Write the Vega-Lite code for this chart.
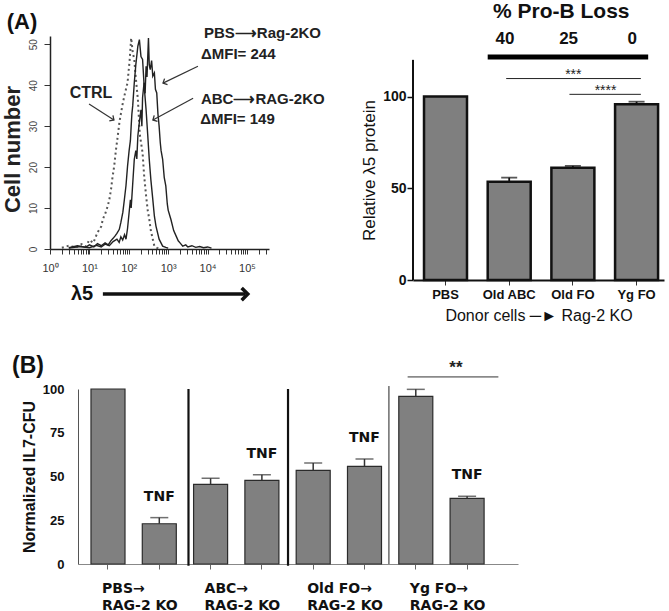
{
  "$schema": "https://vega.github.io/schema/vega-lite/v6.json",
  "padding": {"left": 1, "top": 1, "right": 2, "bottom": 0},
  "config": {"view": {"stroke": null}, "font": "Liberation Sans", "axis": {"grid": false}},
  "columns": 2,
  "bounds": "flush",
  "spacing": {"column": 144, "row": 109},
  "datasets": {
    "flow": [
      {"sample": "CTRL", "intensity": 2, "count": 0.3}, {"sample": "CTRL", "intensity": 3, "count": 0.8}, {"sample": "CTRL", "intensity": 4.5, "count": 0.4}, {"sample": "CTRL", "intensity": 6.3, "count": 1.2}, {"sample": "CTRL", "intensity": 8, "count": 0.6}, {"sample": "CTRL", "intensity": 10, "count": 2.2}, {"sample": "CTRL", "intensity": 12.6, "count": 1.5}, {"sample": "CTRL", "intensity": 16, "count": 4}, {"sample": "CTRL", "intensity": 20, "count": 5.5}, {"sample": "CTRL", "intensity": 22, "count": 7.3}, {"sample": "CTRL", "intensity": 25, "count": 8.5}, {"sample": "CTRL", "intensity": 29, "count": 10.4}, {"sample": "CTRL", "intensity": 32, "count": 12}, {"sample": "CTRL", "intensity": 35.5, "count": 14.6}, {"sample": "CTRL", "intensity": 38, "count": 17}, {"sample": "CTRL", "intensity": 42.7, "count": 20.3}, {"sample": "CTRL", "intensity": 47, "count": 24}, {"sample": "CTRL", "intensity": 52.5, "count": 27.6}, {"sample": "CTRL", "intensity": 58, "count": 31}, {"sample": "CTRL", "intensity": 63, "count": 33}, {"sample": "CTRL", "intensity": 70.8, "count": 35.7}, {"sample": "CTRL", "intensity": 80, "count": 38}, {"sample": "CTRL", "intensity": 93, "count": 40.6}, {"sample": "CTRL", "intensity": 105, "count": 46}, {"sample": "CTRL", "intensity": 115, "count": 51.5}, {"sample": "CTRL", "intensity": 126, "count": 48}, {"sample": "CTRL", "intensity": 138, "count": 46.3}, {"sample": "CTRL", "intensity": 150, "count": 42}, {"sample": "CTRL", "intensity": 170, "count": 36.6}, {"sample": "CTRL", "intensity": 190, "count": 28}, {"sample": "CTRL", "intensity": 224, "count": 23.5}, {"sample": "CTRL", "intensity": 245, "count": 18}, {"sample": "CTRL", "intensity": 275, "count": 13}, {"sample": "CTRL", "intensity": 302, "count": 9.5}, {"sample": "CTRL", "intensity": 331, "count": 7.3}, {"sample": "CTRL", "intensity": 363, "count": 4.5}, {"sample": "CTRL", "intensity": 407, "count": 2.4}, {"sample": "CTRL", "intensity": 447, "count": 0.7}, {"sample": "CTRL", "intensity": 520, "count": 0.3}, {"sample": "CTRL", "intensity": 600, "count": 0},
      {"sample": "ABC", "intensity": 3, "count": 0.3}, {"sample": "ABC", "intensity": 5, "count": 0.8}, {"sample": "ABC", "intensity": 8, "count": 0.4}, {"sample": "ABC", "intensity": 10, "count": 1}, {"sample": "ABC", "intensity": 13, "count": 0.5}, {"sample": "ABC", "intensity": 16, "count": 1.3}, {"sample": "ABC", "intensity": 20, "count": 0.8}, {"sample": "ABC", "intensity": 25, "count": 1.5}, {"sample": "ABC", "intensity": 30, "count": 1}, {"sample": "ABC", "intensity": 35, "count": 2}, {"sample": "ABC", "intensity": 40, "count": 2.6}, {"sample": "ABC", "intensity": 45, "count": 3.2}, {"sample": "ABC", "intensity": 50, "count": 3.8}, {"sample": "ABC", "intensity": 57.5, "count": 4.8}, {"sample": "ABC", "intensity": 63, "count": 6.5}, {"sample": "ABC", "intensity": 70.8, "count": 9}, {"sample": "ABC", "intensity": 77.6, "count": 12.2}, {"sample": "ABC", "intensity": 85, "count": 15.5}, {"sample": "ABC", "intensity": 93, "count": 20.2}, {"sample": "ABC", "intensity": 102, "count": 24}, {"sample": "ABC", "intensity": 110, "count": 26.5}, {"sample": "ABC", "intensity": 115, "count": 30}, {"sample": "ABC", "intensity": 120, "count": 33}, {"sample": "ABC", "intensity": 126, "count": 35}, {"sample": "ABC", "intensity": 138, "count": 40.6}, {"sample": "ABC", "intensity": 151, "count": 45}, {"sample": "ABC", "intensity": 170, "count": 49.5}, {"sample": "ABC", "intensity": 186, "count": 51.1}, {"sample": "ABC", "intensity": 204, "count": 47}, {"sample": "ABC", "intensity": 224, "count": 46.3}, {"sample": "ABC", "intensity": 245, "count": 40}, {"sample": "ABC", "intensity": 275, "count": 34}, {"sample": "ABC", "intensity": 302, "count": 28}, {"sample": "ABC", "intensity": 331, "count": 21.9}, {"sample": "ABC", "intensity": 363, "count": 17}, {"sample": "ABC", "intensity": 407, "count": 12.1}, {"sample": "ABC", "intensity": 447, "count": 8}, {"sample": "ABC", "intensity": 490, "count": 5.6}, {"sample": "ABC", "intensity": 589, "count": 2.4}, {"sample": "ABC", "intensity": 724, "count": 0.7}, {"sample": "ABC", "intensity": 870, "count": 0.4}, {"sample": "ABC", "intensity": 1000, "count": 0.2},
      {"sample": "PBS", "intensity": 3, "count": 0.2}, {"sample": "PBS", "intensity": 6, "count": 0.6}, {"sample": "PBS", "intensity": 10, "count": 0.3}, {"sample": "PBS", "intensity": 15, "count": 0.9}, {"sample": "PBS", "intensity": 20, "count": 0.5}, {"sample": "PBS", "intensity": 25, "count": 1.2}, {"sample": "PBS", "intensity": 32, "count": 0.8}, {"sample": "PBS", "intensity": 40, "count": 1.8}, {"sample": "PBS", "intensity": 50, "count": 2.4}, {"sample": "PBS", "intensity": 57, "count": 1.6}, {"sample": "PBS", "intensity": 63, "count": 3}, {"sample": "PBS", "intensity": 70, "count": 2.2}, {"sample": "PBS", "intensity": 78, "count": 3.5}, {"sample": "PBS", "intensity": 85, "count": 2.4}, {"sample": "PBS", "intensity": 93, "count": 5}, {"sample": "PBS", "intensity": 102, "count": 8.9}, {"sample": "PBS", "intensity": 110, "count": 12}, {"sample": "PBS", "intensity": 115, "count": 10}, {"sample": "PBS", "intensity": 126, "count": 16}, {"sample": "PBS", "intensity": 138, "count": 21.9}, {"sample": "PBS", "intensity": 151, "count": 24}, {"sample": "PBS", "intensity": 160, "count": 22}, {"sample": "PBS", "intensity": 170, "count": 27.6}, {"sample": "PBS", "intensity": 186, "count": 31}, {"sample": "PBS", "intensity": 204, "count": 34}, {"sample": "PBS", "intensity": 215, "count": 30}, {"sample": "PBS", "intensity": 224, "count": 37}, {"sample": "PBS", "intensity": 245, "count": 40.6}, {"sample": "PBS", "intensity": 260, "count": 38}, {"sample": "PBS", "intensity": 275, "count": 44.6}, {"sample": "PBS", "intensity": 290, "count": 42}, {"sample": "PBS", "intensity": 316, "count": 51.5}, {"sample": "PBS", "intensity": 331, "count": 45}, {"sample": "PBS", "intensity": 350, "count": 43.8}, {"sample": "PBS", "intensity": 380, "count": 46}, {"sample": "PBS", "intensity": 407, "count": 42.2}, {"sample": "PBS", "intensity": 447, "count": 43}, {"sample": "PBS", "intensity": 475, "count": 39}, {"sample": "PBS", "intensity": 513, "count": 38.1}, {"sample": "PBS", "intensity": 550, "count": 33}, {"sample": "PBS", "intensity": 589, "count": 30}, {"sample": "PBS", "intensity": 630, "count": 26}, {"sample": "PBS", "intensity": 661, "count": 24}, {"sample": "PBS", "intensity": 724, "count": 21.9}, {"sample": "PBS", "intensity": 794, "count": 17.5}, {"sample": "PBS", "intensity": 871, "count": 15.4}, {"sample": "PBS", "intensity": 950, "count": 11}, {"sample": "PBS", "intensity": 1000, "count": 9.5}, {"sample": "PBS", "intensity": 1175, "count": 7.2}, {"sample": "PBS", "intensity": 1380, "count": 4.5}, {"sample": "PBS", "intensity": 1585, "count": 3.2}, {"sample": "PBS", "intensity": 1800, "count": 2}, {"sample": "PBS", "intensity": 2000, "count": 1.5}, {"sample": "PBS", "intensity": 2344, "count": 0.7}, {"sample": "PBS", "intensity": 2800, "count": 1}, {"sample": "PBS", "intensity": 3162, "count": 0.5}, {"sample": "PBS", "intensity": 4000, "count": 0.8}, {"sample": "PBS", "intensity": 5012, "count": 0.4}, {"sample": "PBS", "intensity": 6300, "count": 0.6}, {"sample": "PBS", "intensity": 7943, "count": 0.3}, {"sample": "PBS", "intensity": 10000, "count": 0.5}, {"sample": "PBS", "intensity": 12590, "count": 0.2}
    ],
    "hist_labels": [
      {"kind": "panel", "label": "(A)", "intensity": 0.195, "count": 55.4},
      {"kind": "ctrl", "label": "CTRL", "intensity": 11, "count": 38},
      {"kind": "note", "label": "PBS⟶Rag-2KO", "intensity": 8100, "count": 52.7},
      {"kind": "note", "label": "ΔMFI= 244", "intensity": 6800, "count": 47.6},
      {"kind": "note", "label": "ABC⟶RAG-2KO", "intensity": 6800, "count": 36.6},
      {"kind": "note", "label": "ΔMFI= 149", "intensity": 6500, "count": 31.7},
      {"kind": "axis", "label": "λ5", "intensity": 6.5, "count": -11}
    ],
    "hist_arrows": [
      {"name": "CTRL", "intensity": 9.8, "count": 35.4, "intensity_end": 42, "count_end": 31.5},
      {"name": "PBS", "intensity": 5700, "count": 44.6, "intensity_end": 740, "count_end": 40.5},
      {"name": "ABC", "intensity": 4300, "count": 36.8, "intensity_end": 410, "count_end": 31.5}
    ],
    "axis_arrow": [
      {"intensity": 22, "count": -11, "intensity_end": 90000, "tip": 105000}
    ],
    "protein": [
      {"donor": "PBS", "value": 100, "hi": 100},
      {"donor": "Old ABC", "value": 53.5, "hi": 55.8},
      {"donor": "Old FO", "value": 61.2, "hi": 62.2},
      {"donor": "Yg FO", "value": 95.8, "hi": 97.2}
    ],
    "colony": [
      {"condition": "PBS", "treatment": "none", "value": 100, "hi": 100},
      {"condition": "PBS+TNF", "treatment": "TNF", "value": 23, "hi": 26.5},
      {"condition": "ABC", "treatment": "none", "value": 45.5, "hi": 49},
      {"condition": "ABC+TNF", "treatment": "TNF", "value": 47.8, "hi": 51},
      {"condition": "Old FO", "treatment": "none", "value": 53.5, "hi": 57.7},
      {"condition": "Old FO+TNF", "treatment": "TNF", "value": 55.8, "hi": 60},
      {"condition": "Yg FO", "treatment": "none", "value": 95.8, "hi": 99.8},
      {"condition": "Yg FO+TNF", "treatment": "TNF", "value": 37.5, "hi": 38.7}
    ]
  },
  "concat": [
    {
      "width": 219,
      "height": 213,
      "layer": [
        {
          "data": {"name": "flow"},
          "transform": [{"filter": "datum.sample == 'CTRL'"}],
          "mark": {"type": "line", "strokeDash": [2, 3], "strokeWidth": 2, "color": "#555"},
          "encoding": {
            "x": {"field": "intensity", "type": "quantitative", "scale": {"type": "log", "domain": [1, 363000], "nice": false},
              "axis": {"title": null, "values": [1,2,3,4,5,6,7,8,9,10,20,30,40,50,60,70,80,90,100,200,300,400,500,600,700,800,900,1000,2000,3000,4000,5000,6000,7000,8000,9000,10000,20000,30000,40000,50000,60000,70000,80000,90000,100000,200000,300000],
                "labelExpr": "datum.value == 1 ? '10⁰' : datum.value == 10 ? '10¹' : datum.value == 100 ? '10²' : datum.value == 1000 ? '10³' : datum.value == 10000 ? '10⁴' : datum.value == 100000 ? '10⁵' : ''",
                "labelFontSize": 11, "labelColor": "#333", "tickSize": 5, "tickColor": "#333", "domainColor": "#222", "domainWidth": 1.5, "labelPadding": 8, "labelFlush": false, "labelOverlap": false}},
            "y": {"field": "count", "type": "quantitative", "scale": {"domain": [0, 52], "nice": false},
              "axis": {"title": "Cell number", "values": [0, 10, 20, 30, 40, 50],
                "labelAngle": 270, "labelAlign": "center", "labelBaseline": "bottom",
                "labelFontSize": 10, "labelColor": "#444", "tickSize": 6, "tickColor": "#333", "domainColor": "#222", "domainWidth": 1.5,
                "labelPadding": 6, "labelOverlap": false, "titleFontSize": 22, "titleFontWeight": "bold", "titleColor": "#222", "titlePadding": 4, "titleY": 113}}
          }
        },
        {
          "data": {"name": "flow"},
          "transform": [{"filter": "datum.sample != 'CTRL'"}],
          "mark": {"type": "line", "strokeWidth": 1.4, "color": "#222"},
          "encoding": {
            "x": {"field": "intensity", "type": "quantitative"},
            "y": {"field": "count", "type": "quantitative"},
            "detail": {"field": "sample"}
          }
        },
        {
          "data": {"name": "hist_arrows"},
          "mark": {"type": "rule", "strokeWidth": 1.2, "color": "#333"},
          "encoding": {
            "x": {"field": "intensity", "type": "quantitative"},
            "y": {"field": "count", "type": "quantitative"},
            "x2": {"field": "intensity_end"},
            "y2": {"field": "count_end"}
          }
        },
        {
          "data": {"name": "hist_arrows"},
          "transform": [{"filter": "datum.name == 'CTRL'"}],
          "mark": {"type": "point", "shape": "M-1,-1L0,0L-1,1", "filled": false, "stroke": "#333", "strokeWidth": 1.3, "size": 45, "angle": 33, "opacity": 1},
          "encoding": {"x": {"field": "intensity_end", "type": "quantitative"}, "y": {"field": "count_end", "type": "quantitative"}}
        },
        {
          "data": {"name": "hist_arrows"},
          "transform": [{"filter": "datum.name == 'PBS'"}],
          "mark": {"type": "point", "shape": "M-1,-1L0,0L-1,1", "filled": false, "stroke": "#333", "strokeWidth": 1.3, "size": 45, "angle": 154, "opacity": 1},
          "encoding": {"x": {"field": "intensity_end", "type": "quantitative"}, "y": {"field": "count_end", "type": "quantitative"}}
        },
        {
          "data": {"name": "hist_arrows"},
          "transform": [{"filter": "datum.name == 'ABC'"}],
          "mark": {"type": "point", "shape": "M-1,-1L0,0L-1,1", "filled": false, "stroke": "#333", "strokeWidth": 1.3, "size": 45, "angle": 151, "opacity": 1},
          "encoding": {"x": {"field": "intensity_end", "type": "quantitative"}, "y": {"field": "count_end", "type": "quantitative"}}
        },
        {
          "data": {"name": "axis_arrow"},
          "mark": {"type": "rule", "strokeWidth": 3.5, "color": "#111"},
          "encoding": {
            "x": {"field": "intensity", "type": "quantitative"},
            "y": {"field": "count", "type": "quantitative"},
            "x2": {"field": "intensity_end"}
          }
        },
        {
          "data": {"name": "axis_arrow"},
          "mark": {"type": "point", "shape": "M-1,-1L0,0L-1,1", "filled": false, "stroke": "#111", "strokeWidth": 3.5, "size": 150, "opacity": 1},
          "encoding": {"x": {"field": "tip", "type": "quantitative"}, "y": {"field": "count", "type": "quantitative"}}
        },
        {
          "data": {"name": "hist_labels"},
          "transform": [{"filter": "datum.kind == 'panel'"}],
          "mark": {"type": "text", "fontSize": 22, "fontWeight": "bold", "color": "#111", "align": "center", "baseline": "middle"},
          "encoding": {"x": {"field": "intensity", "type": "quantitative"}, "y": {"field": "count", "type": "quantitative"}, "text": {"field": "label"}}
        },
        {
          "data": {"name": "hist_labels"},
          "transform": [{"filter": "datum.kind == 'ctrl'"}],
          "mark": {"type": "text", "fontSize": 16, "fontWeight": "bold", "color": "#222", "align": "center", "baseline": "middle"},
          "encoding": {"x": {"field": "intensity", "type": "quantitative"}, "y": {"field": "count", "type": "quantitative"}, "text": {"field": "label"}}
        },
        {
          "data": {"name": "hist_labels"},
          "transform": [{"filter": "datum.kind == 'note'"}],
          "mark": {"type": "text", "fontSize": 15, "fontWeight": "bold", "color": "#222", "align": "left", "baseline": "middle"},
          "encoding": {"x": {"field": "intensity", "type": "quantitative"}, "y": {"field": "count", "type": "quantitative"}, "text": {"field": "label"}}
        },
        {
          "data": {"name": "hist_labels"},
          "transform": [{"filter": "datum.kind == 'axis'"}],
          "mark": {"type": "text", "fontSize": 20, "fontWeight": "bold", "color": "#111", "align": "center", "baseline": "middle"},
          "encoding": {"x": {"field": "intensity", "type": "quantitative"}, "y": {"field": "count", "type": "quantitative"}, "text": {"field": "label"}}
        }
      ]
    },
    {
      "width": 251,
      "height": 244,
      "layer": [
        {
          "data": {"name": "protein"},
          "mark": {"type": "bar", "fill": "#7f7f7f", "stroke": "#111", "strokeWidth": 2.5},
          "encoding": {
            "x": {"field": "donor", "type": "nominal", "sort": null,
              "scale": {"domain": ["PBS", "Old ABC", "Old FO", "Yg FO"], "paddingInner": 0.325, "paddingOuter": 0.133, "align": 0.65},
              "axis": {"title": "Donor cells ─► Rag-2 KO", "labelAngle": 0, "labelFontSize": 13, "labelFontWeight": "bold", "labelColor": "#111", "tickSize": 5, "tickColor": "#333", "domainColor": "#111", "domainWidth": 2, "labelPadding": 3, "titleFontSize": 16, "titleFontWeight": "normal", "titlePadding": 6, "titleColor": "#111"}},
            "y": {"field": "value", "type": "quantitative", "scale": {"domain": [0, 133], "nice": false},
              "axis": {"title": "Relative λ5 protein", "values": [0, 50, 100], "domain": false, "tickSize": 6, "tickWidth": 1.5, "tickColor": "#111", "labelFontSize": 14, "labelFontWeight": "bold", "labelColor": "#111", "labelPadding": 1, "titleFontSize": 17, "titleFontWeight": "normal", "titleColor": "#111", "titlePadding": 4, "titleY": 134}}
          }
        },
        {
          "data": {"name": "protein"},
          "transform": [{"filter": "datum.hi > datum.value"}],
          "mark": {"type": "rule", "color": "#111", "strokeWidth": 1.8},
          "encoding": {"x": {"field": "donor", "type": "nominal"}, "y": {"field": "value", "type": "quantitative"}, "y2": {"field": "hi"}}
        },
        {
          "data": {"name": "protein"},
          "transform": [{"filter": "datum.hi > datum.value"}],
          "mark": {"type": "tick", "color": "#111", "size": 16, "thickness": 1.8, "orient": "horizontal"},
          "encoding": {"x": {"field": "donor", "type": "nominal"}, "y": {"field": "hi", "type": "quantitative"}}
        },
        {
          "data": {"values": [{"donor": "PBS", "value": 0, "value_end": 120}]},
          "mark": {"type": "rule", "color": "#111", "strokeWidth": 2},
          "encoding": {"x": {"field": "donor", "type": "nominal", "bandPosition": -0.256}, "y": {"field": "value", "type": "quantitative"}, "y2": {"field": "value_end"}}
        },
        {
          "data": {"values": [{"donor": "Old ABC", "donor_end": "Yg FO", "value": 121.6}]},
          "mark": {"type": "rule", "color": "#000", "strokeWidth": 5},
          "encoding": {"x": {"field": "donor", "type": "nominal", "bandPosition": 0}, "x2": {"field": "donor_end", "bandPosition": 0.77}, "y": {"field": "value", "type": "quantitative"}}
        },
        {
          "data": {"values": [{"donor": "Old ABC", "donor_end": "Yg FO", "value": 109.8}]},
          "mark": {"type": "rule", "color": "#222", "strokeWidth": 1},
          "encoding": {"x": {"field": "donor", "type": "nominal", "bandPosition": 0.43}, "x2": {"field": "donor_end", "bandPosition": 0.6}, "y": {"field": "value", "type": "quantitative"}}
        },
        {
          "data": {"values": [{"donor": "Old FO", "donor_end": "Yg FO", "value": 101.2}]},
          "mark": {"type": "rule", "color": "#222", "strokeWidth": 1},
          "encoding": {"x": {"field": "donor", "type": "nominal", "bandPosition": 0.42}, "x2": {"field": "donor_end", "bandPosition": 0.6}, "y": {"field": "value", "type": "quantitative"}}
        },
        {
          "data": {"values": [{"donor": "Old FO", "value": 111.5, "label": "***"}]},
          "mark": {"type": "text", "fontSize": 14, "color": "#222", "baseline": "middle"},
          "encoding": {"x": {"field": "donor", "type": "nominal", "bandPosition": 0.51}, "y": {"field": "value", "type": "quantitative"}, "text": {"field": "label"}}
        },
        {
          "data": {"values": [{"donor": "Old FO", "value": 102.8, "label": "****"}]},
          "mark": {"type": "text", "fontSize": 14, "color": "#222", "baseline": "middle"},
          "encoding": {"x": {"field": "donor", "type": "nominal", "bandPosition": 1.26}, "y": {"field": "value", "type": "quantitative"}, "text": {"field": "label"}}
        },
        {
          "data": {"values": [{"donor": "Old FO", "value": 146, "label": "% Pro-B Loss"}]},
          "mark": {"type": "text", "fontSize": 21, "fontWeight": "bold", "color": "#111", "baseline": "middle"},
          "encoding": {"x": {"field": "donor", "type": "nominal", "bandPosition": 0.23}, "y": {"field": "value", "type": "quantitative"}, "text": {"field": "label"}}
        },
        {
          "data": {"values": [{"donor": "Old ABC", "value": 131.4, "label": "40"}, {"donor": "Old FO", "value": 131.4, "label": "25"}, {"donor": "Yg FO", "value": 131.4, "label": "0"}]},
          "mark": {"type": "text", "fontSize": 17, "fontWeight": "bold", "color": "#111", "baseline": "middle"},
          "encoding": {"x": {"field": "donor", "type": "nominal", "bandPosition": 0.4}, "y": {"field": "value", "type": "quantitative"}, "text": {"field": "label"}}
        }
      ]
    },
    {
      "width": 219,
      "height": 175,
      "layer": [
        {
          "data": {"name": "colony"},
          "mark": {"type": "bar", "fill": "#808080", "stroke": "#2b2b2b", "strokeWidth": 1.2},
          "encoding": {
            "x": {"field": "condition", "type": "nominal", "sort": null,
              "scale": {"domain": ["PBS", "PBS+TNF", "ABC", "ABC+TNF", "Old FO", "Old FO+TNF", "Yg FO", "Yg FO+TNF"], "range": [28, 468], "paddingInner": 0.337, "paddingOuter": 0.457, "align": 0.277},
              "axis": {"title": null, "labelExpr": "datum.value == 'PBS' || datum.value == 'ABC' || datum.value == 'Old FO' || datum.value == 'Yg FO' ? [datum.value + '→', 'RAG-2 KO'] : ''", "labelAngle": 0, "labelAlign": "left", "labelBaseline": "top", "labelOffset": -6, "labelPadding": 12, "labelFont": "DejaVu Sans", "labelFontSize": 14, "labelFontWeight": "bold", "labelLineHeight": 17, "labelColor": "#111", "tickSize": 5, "tickColor": "#666", "domainColor": "#888", "domainWidth": 1.2, "labelOverlap": false, "labelFlush": false, "labelBound": false}},
            "y": {"field": "value", "type": "quantitative", "scale": {"domain": [0, 100], "nice": false},
              "axis": {"title": "Normalized IL7-CFU", "values": [0, 25, 50, 75, 100], "offset": -28, "ticks": false, "labelPadding": 14, "labelFontSize": 13, "labelFontWeight": "bold", "labelColor": "#111", "domainColor": "#555", "titleFontSize": 16, "titleFontWeight": "bold", "titleColor": "#111", "titlePadding": 5}}
          }
        },
        {
          "data": {"name": "colony"},
          "transform": [{"filter": "datum.hi > datum.value"}],
          "mark": {"type": "rule", "color": "#333", "strokeWidth": 1.5},
          "encoding": {"x": {"field": "condition", "type": "nominal"}, "y": {"field": "value", "type": "quantitative"}, "y2": {"field": "hi"}}
        },
        {
          "data": {"name": "colony"},
          "transform": [{"filter": "datum.hi > datum.value"}],
          "mark": {"type": "tick", "color": "#333", "size": 18, "thickness": 1.5, "orient": "horizontal"},
          "encoding": {"x": {"field": "condition", "type": "nominal"}, "y": {"field": "hi", "type": "quantitative"}}
        },
        {
          "data": {"name": "colony"},
          "transform": [{"filter": "datum.treatment == 'TNF'"}],
          "mark": {"type": "text", "font": "DejaVu Sans", "fontSize": 14, "fontWeight": "bold", "color": "#111", "dy": -21, "baseline": "middle"},
          "encoding": {"x": {"field": "condition", "type": "nominal"}, "y": {"field": "hi", "type": "quantitative"}, "text": {"field": "treatment"}}
        },
        {
          "data": {"values": [{"condition": "ABC", "value": -1, "value_end": 100}]},
          "mark": {"type": "rule", "color": "#111", "strokeWidth": 2.2},
          "encoding": {"x": {"field": "condition", "type": "nominal", "bandPosition": -0.15}, "y": {"field": "value", "type": "quantitative"}, "y2": {"field": "value_end"}}
        },
        {
          "data": {"values": [{"condition": "Old FO", "value": -1, "value_end": 100}]},
          "mark": {"type": "rule", "color": "#111", "strokeWidth": 2.2},
          "encoding": {"x": {"field": "condition", "type": "nominal", "bandPosition": -0.24}, "y": {"field": "value", "type": "quantitative"}, "y2": {"field": "value_end"}}
        },
        {
          "data": {"values": [{"condition": "Yg FO", "value": 0, "value_end": 101.7}]},
          "mark": {"type": "rule", "color": "#222", "strokeWidth": 1},
          "encoding": {"x": {"field": "condition", "type": "nominal", "bandPosition": -0.29}, "y": {"field": "value", "type": "quantitative"}, "y2": {"field": "value_end"}}
        },
        {
          "data": {"values": [{"condition": "Yg FO", "condition_end": "Yg FO+TNF", "value": 106.9}]},
          "mark": {"type": "rule", "color": "#333", "strokeWidth": 1},
          "encoding": {"x": {"field": "condition", "type": "nominal", "bandPosition": 0.26}, "x2": {"field": "condition_end", "bandPosition": 1.42}, "y": {"field": "value", "type": "quantitative"}}
        },
        {
          "data": {"values": [{"condition": "Yg FO+TNF", "value": 112, "label": "**"}]},
          "mark": {"type": "text", "fontSize": 17, "fontWeight": "bold", "color": "#222", "baseline": "middle"},
          "encoding": {"x": {"field": "condition", "type": "nominal", "bandPosition": 0.17}, "y": {"field": "value", "type": "quantitative"}, "text": {"field": "label"}}
        },
        {
          "data": {"values": [{"condition": "PBS", "value": 113, "label": "(B)"}]},
          "mark": {"type": "text", "fontSize": 23, "fontWeight": "bold", "color": "#111", "baseline": "middle"},
          "encoding": {"x": {"field": "condition", "type": "nominal", "bandPosition": -1.85}, "y": {"field": "value", "type": "quantitative"}, "text": {"field": "label"}}
        }
      ]
    }
  ]
}
